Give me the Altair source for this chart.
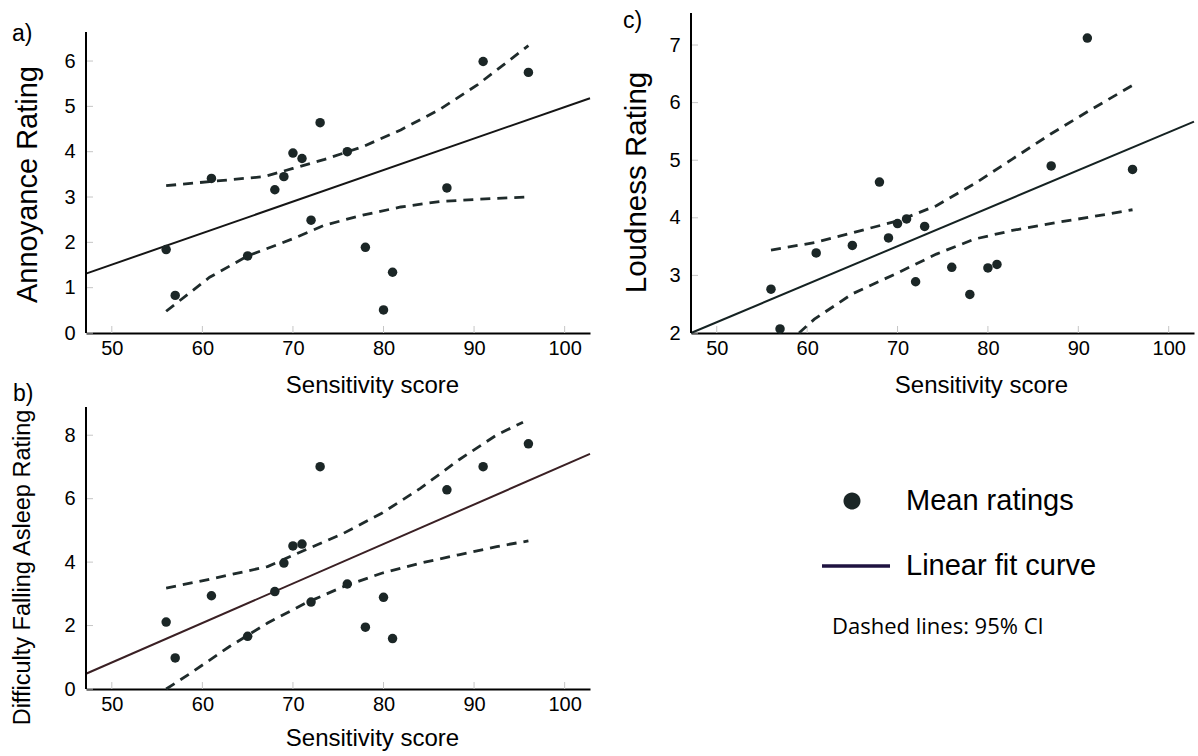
import altair as alt
import pandas as pd

# ---------------- data ----------------
sens = [56, 57, 61, 65, 68, 69, 70, 71, 72, 73, 76, 78, 80, 81, 87, 91, 96]
annoyance = [1.84, 0.83, 3.41, 1.70, 3.16, 3.45, 3.97, 3.85, 2.49, 4.64, 4.00, 1.89, 0.51, 1.34, 3.20, 5.99, 5.75]
asleep = [2.11, 0.98, 2.94, 1.66, 3.07, 3.97, 4.51, 4.57, 2.74, 7.01, 3.31, 1.95, 2.89, 1.59, 6.28, 7.01, 7.73]
loudness = [2.76, 2.07, 3.39, 3.52, 4.62, 3.65, 3.90, 3.98, 2.89, 3.85, 3.14, 2.67, 3.13, 3.19, 4.90, 7.12, 4.84]

fit_x = [47.15, 102.8]
annoy_fit = [1.31, 5.18]
asleep_fit = [0.48, 7.41]
loud_fit = [2.0, 5.67]

annoy_up_x = [56, 60.8, 66.8, 70, 73.5, 77.7, 81.9, 86.2, 90.4, 96]
annoy_up = [3.25, 3.34, 3.45, 3.63, 3.83, 4.11, 4.48, 4.93, 5.48, 6.34]
annoy_lo_x = [56, 60.8, 65, 70, 73.5, 77.7, 81.9, 86.2, 90.4, 96]
annoy_lo = [0.48, 1.23, 1.70, 2.08, 2.38, 2.60, 2.78, 2.90, 2.95, 3.00]

asleep_up_x = [56, 60.8, 67.2, 71.4, 75.6, 79.8, 84.1, 88.3, 92.5, 95.4]
asleep_up = [3.18, 3.46, 3.86, 4.39, 4.91, 5.54, 6.33, 7.22, 8.01, 8.41]
asleep_lo_x = [56, 58.7, 63, 67.2, 71.4, 75.6, 79.8, 84.1, 88.3, 92.5, 96]
asleep_lo = [0.0, 0.5, 1.34, 2.08, 2.71, 3.23, 3.65, 3.97, 4.23, 4.49, 4.67]

loud_up_x = [56, 60.8, 65, 70.1, 74.3, 78.5, 82.7, 86.9, 91.2, 96]
loud_up = [3.44, 3.57, 3.74, 3.95, 4.21, 4.59, 5.02, 5.45, 5.86, 6.30]
loud_lo_x = [59.1, 60.8, 65, 70.1, 74.3, 78.5, 82.7, 86.9, 91.2, 96]
loud_lo = [2.0, 2.24, 2.68, 3.05, 3.37, 3.63, 3.78, 3.90, 4.01, 4.14]

x_ticks = [50, 60, 70, 80, 90, 100]
annoy_ticks = [0, 1, 2, 3, 4, 5, 6]
asleep_ticks = [0, 2, 4, 6, 8]
loud_ticks = [2, 3, 4, 5, 6, 7]

# axis extents (value at the top end of each y axis line)
annoy_axis_top = 6.64
asleep_axis_top = 8.89
loud_axis_top = 7.556

legend_labels = ["Mean ratings", "Linear fit curve"]

FONT = "Liberation Sans"
DOT = "#1b2626"
DASH = "#1f2b2b"
# legend symbol glyphs (unit space, scaled by the legend symbol size)
CIRCLE_PATH = "M-0.662,0A0.25,0.25,0,1,0,-0.162,0A0.25,0.25,0,1,0,-0.662,0Z"
LINE_PATH = "M-1.294,-0.055L0.706,-0.055L0.706,0.055L-1.294,0.055Z"


def panel(yv, fy, ux, uy, lx, ly, ydom, axis_top, yt, ytitle, ytsize, ytx, yty, xtx, xty,
          w, h, fit_color, label, ldx, ldy, legend=False):
    X = alt.X("x:Q", scale=alt.Scale(domain=[47.15, 102.8], nice=False, zero=False),
              axis=alt.Axis(values=x_ticks, ticks=False, grid=False, domainColor="black",
                            domainWidth=2, labelFont=FONT, labelFontSize=20, labelColor="black",
                            labelPadding=5, format="d", title="Sensitivity score", titleFont=FONT,
                            titleFontSize=24, titleFontWeight="normal", titleColor="black",
                            titleX=xtx, titleY=xty, titleBaseline="middle"))
    Y = alt.Y("y:Q", scale=alt.Scale(domain=ydom, nice=False, zero=False),
              axis=alt.Axis(values=yt, ticks=False, grid=False, domain=False, format="d",
                            labelFont=FONT, labelFontSize=20, labelColor="black",
                            labelPadding=11, title=ytitle, titleFont=FONT, titleFontSize=ytsize,
                            titleFontWeight="normal", titleColor="black", titleX=ytx,
                            titleY=yty, titleBaseline="middle"))

    yaxis_line = alt.Chart(pd.DataFrame({"lo": [ydom[0]], "hi": [axis_top]})).mark_rule(
        color="black", strokeWidth=2).encode(
        x=alt.value(0), y=alt.Y("lo:Q", scale=alt.Scale(domain=ydom, nice=False, zero=False)),
        y2="hi:Q")
    xt = alt.Chart(pd.DataFrame({"x": x_ticks})).mark_rule(color="#c6c6c6", strokeWidth=1).encode(
        x=X, y=alt.value(h), y2=alt.value(h - 7))
    ytk = alt.Chart(pd.DataFrame({"y": yt})).mark_rule(color="#c6c6c6", strokeWidth=1).encode(
        y=Y, x=alt.value(0), x2=alt.value(7))
    up = alt.Chart(pd.DataFrame({"x": ux, "y": uy})).mark_line(
        color=DASH, strokeWidth=2.8, strokeDash=[10, 7]).encode(x=X, y=Y)
    lo = alt.Chart(pd.DataFrame({"x": lx, "y": ly})).mark_line(
        color=DASH, strokeWidth=2.8, strokeDash=[10, 7]).encode(x=X, y=Y)
    fit = alt.Chart(pd.DataFrame({"x": fit_x, "y": fy})).mark_line(
        color=fit_color, strokeWidth=2).encode(x=X, y=Y)
    pts = alt.Chart(pd.DataFrame({"x": sens, "y": yv})).mark_circle(
        size=90, color=DOT, opacity=1).encode(x=X, y=Y)

    layers = [xt, ytk, up, lo, fit, pts, yaxis_line]
    if legend:
        leg = alt.Legend(orient="none", legendX=746, legendY=454,
                         title="Dashed lines: 95% CI",
                         titleOrient="bottom", titleAnchor="start", titleFont="Open Sans",
                         titleFontSize=22, titleFontWeight="normal", titleColor="black",
                         titlePadding=36, titleLimit=500, labelFont=FONT, labelFontSize=29,
                         labelColor="black", labelLimit=500, labelOffset=6, symbolSize=4624,
                         rowPadding=16, symbolStrokeWidth=0, padding=0, symbolOpacity=1)
        key = alt.Chart(pd.DataFrame({"kind": legend_labels})).mark_point(
            filled=True, opacity=0).encode(
            fill=alt.Fill("kind:N", scale=alt.Scale(domain=legend_labels, range=[DOT, "#1e1240"]),
                          legend=leg),
            shape=alt.Shape("kind:N", scale=alt.Scale(domain=legend_labels,
                                                      range=[CIRCLE_PATH, LINE_PATH]), legend=leg),
        )
        layers.append(key)

    return alt.layer(*layers).properties(
        width=w, height=h,
        title=alt.TitleParams(text=label, anchor="start", frame="group", font=FONT, fontSize=23,
                              fontWeight="normal", color="black", baseline="alphabetic",
                              offset=0, dx=ldx, dy=ldy))


pa = panel(annoyance, annoy_fit, annoy_up_x, annoy_up, annoy_lo_x, annoy_lo, [0, 7.06], annoy_axis_top,
           annoy_ticks, "Annoyance Rating", 29, -59, 171, 286, 52, 504, 320, "#151515", "a)", -74, 51)
pb = panel(asleep, asleep_fit, asleep_up_x, asleep_up, asleep_lo_x, asleep_lo, [0, 8.89], asleep_axis_top,
           asleep_ticks, "Difficulty Falling Asleep Rating", 23.5, -64, 160, 286, 49, 504, 282,
           "#3a2024", "b)", -73, 18)
pc = panel(loudness, loud_fit, loud_up_x, loud_up, loud_lo_x, loud_lo, [2, 7.556], loud_axis_top,
           loud_ticks, "Loudness Rating", 29.5, -55, 169, 290, 52, 503, 320, "#152222", "c)", -68, 39,
           legend=True)

chart = alt.concat(pa, pc, pb, columns=2, spacing={"row": 74, "column": 101}, bounds="flush").properties(
    padding={"left": 86, "top": 13, "right": 1112, "bottom": 743},
    autosize=alt.AutoSizeParams(type="none"),
).configure_view(strokeWidth=0)

chart.save("out.html", embed_options={"renderer": "svg", "actions": False})
